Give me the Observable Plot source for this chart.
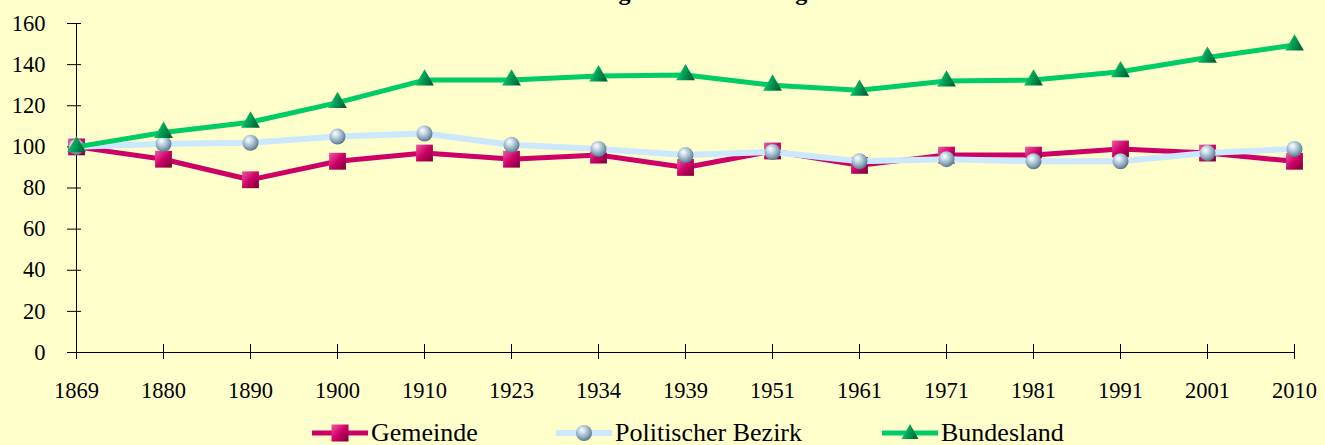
<!DOCTYPE html>
<html><head><meta charset="utf-8">
<script src="https://cdn.jsdelivr.net/npm/d3@7"></script>
<script src="https://cdn.jsdelivr.net/npm/@observablehq/plot@0.6"></script>
<style>
html,body{margin:0;padding:0;background:#FFFFCC;}
body{width:1325px;height:445px;position:relative;overflow:hidden;font-family:"Liberation Serif","Times New Roman",serif;color:#000;}
#title{position:absolute;top:-20px;left:0;width:1307px;text-align:center;font-weight:bold;font-size:24px;line-height:24px;white-space:nowrap;}
#chart{position:absolute;top:0;left:0;}
#legend{position:absolute;top:418px;left:0;width:1325px;height:30px;}
.item{position:absolute;top:0;height:30px;display:flex;align-items:center;font-size:26px;white-space:nowrap;}
.item svg{margin-right:3px;flex:none;}
</style></head>
<body>
<svg width="0" height="0" style="position:absolute">
  <defs>
    <linearGradient id="gSq" x1="0" y1="0" x2="1" y2="1">
      <stop offset="0" stop-color="#F45AA2"/>
      <stop offset="0.5" stop-color="#CC0066"/>
      <stop offset="1" stop-color="#780034"/>
    </linearGradient>
    <radialGradient id="gSph" cx="0.42" cy="0.38" r="0.62" fx="0.36" fy="0.3">
      <stop offset="0" stop-color="#FFFFFF"/>
      <stop offset="0.3" stop-color="#CFE0EA"/>
      <stop offset="0.7" stop-color="#8EA9BC"/>
      <stop offset="1" stop-color="#5A778C"/>
    </radialGradient>
    <linearGradient id="gTri" x1="0" y1="0" x2="1" y2="0.3">
      <stop offset="0" stop-color="#3FD78B"/>
      <stop offset="0.5" stop-color="#00A657"/>
      <stop offset="1" stop-color="#00663A"/>
    </linearGradient>
  </defs>
</svg>
<div id="title">Entwicklung der Bevölkerung</div>
<div id="chart"></div>
<div id="legend"></div>
<script>
// ---- data ----
const years = ["1869","1880","1890","1900","1910","1923","1934","1939","1951","1961","1971","1981","1991","2001","2010"];
const gemeinde   = [100, 94, 84, 93, 97, 94, 96, 90, 98, 91, 96, 96, 99, 97, 93];
const bezirk     = [100, 101.5, 102, 105, 106.5, 101, 99, 96, 97.5, 93, 94, 93, 93, 97, 99];
const bundesland = [100, 107, 112, 121.5, 132.5, 132.5, 134.5, 135, 130, 127.5, 132, 132.5, 136.5, 143.5, 149.5];
const seriesNames = ["Gemeinde", "Politischer Bezirk", "Bundesland"];
const yTicks = [0, 20, 40, 60, 80, 100, 120, 140, 160];

// ---- styles ----
const fontStack = "'Liberation Serif','Times New Roman',serif";
const styles = [
  {line: "#CC0066", width: 5, symbol: "square", r: 9.5, fill: "url(#gSq)"},
  {line: "#CCE8FF", width: 6, symbol: "circle", r: 8, fill: "url(#gSph)"},
  {line: "#00CC66", width: 5, symbol: "triangle", r: 7, fill: "url(#gTri)"}
];
const legendLeft = [312, 556, 882];

const seriesValues = [gemeinde, bezirk, bundesland];
const rows = seriesValues.map(vals => years.map((y, i) => ({year: y, value: vals[i]})));

const seriesMarks = rows.flatMap((data, k) => [
  Plot.line(data, {x: "year", y: "value", stroke: styles[k].line, strokeWidth: styles[k].width}),
  Plot.dot(data, {x: "year", y: "value", symbol: styles[k].symbol, r: styles[k].r, fill: styles[k].fill, stroke: "none"})
]);

const chart = Plot.plot({
  width: 1325, height: 405,
  marginLeft: 74, marginRight: 30, marginTop: 23, marginBottom: 53,
  style: {background: "transparent", fontFamily: fontStack, fontSize: "22.5px", color: "#000", overflow: "visible"},
  x: {type: "point", domain: years, padding: 0, label: null},
  y: {domain: [0, 160], label: null},
  marks: [
    Plot.ruleY([0], {stroke: "#000"}),
    Plot.ruleX([years[0]], {stroke: "#000"}),
    Plot.axisX({tickSize: 15, dy: -8, fill: "none", label: null}),
    Plot.axisX({tickSize: 0, tickPadding: 30, label: null}),
    Plot.axisY(yTicks, {tickSize: 14, dx: 7, fill: "none", label: null}),
    Plot.axisY(yTicks, {tickSize: 0, tickPadding: 29, label: null}),
    ...seriesMarks
  ]
});
document.getElementById("chart").appendChild(chart);

// ---- legend ----
const legend = document.getElementById("legend");
seriesNames.forEach((name, k) => {
  const s = styles[k];
  let marker;
  if (s.symbol === "square") marker = `<rect x="19.5" y="6.5" width="17" height="17" fill="${s.fill}"/>`;
  else if (s.symbol === "circle") marker = `<circle cx="28" cy="15" r="8" fill="${s.fill}"/>`;
  else marker = `<polygon points="28,6 36.5,21 19.5,21" fill="${s.fill}"/>`;
  const item = document.createElement("div");
  item.className = "item";
  item.style.left = legendLeft[k] + "px";
  item.innerHTML = `<svg width="56" height="30"><line x1="0" x2="56" y1="15" y2="15" stroke="${s.line}" stroke-width="${s.width}" stroke-linecap="round"/>${marker}</svg><span>${name}</span>`;
  legend.appendChild(item);
});
</script>
</body></html>
